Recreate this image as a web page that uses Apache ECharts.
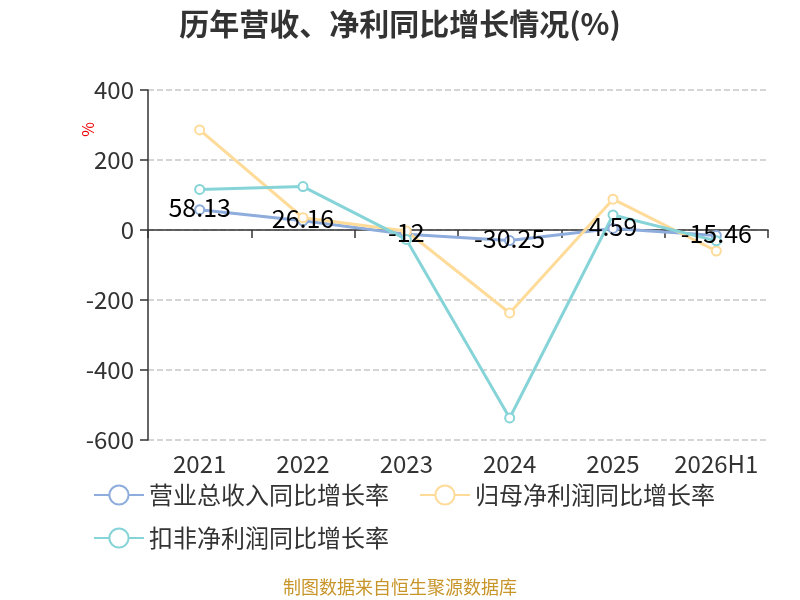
<!DOCTYPE html>
<html>
<head>
<meta charset="utf-8">
<script src="https://cdn.jsdelivr.net/npm/echarts@6/dist/echarts.min.js"></script>
<style>
  html, body { margin: 0; padding: 0; background: #fff; }
  #chart { width: 800px; height: 600px; }
</style>
</head>
<body>
<div id="chart"></div>
<script>
const categories = ['2021', '2022', '2023', '2024', '2025', '2026H1'];
const revenueGrowth = [58.13, 26.16, -12, -30.25, 4.59, -15.46];
const netProfitGrowth = [286, 35, -3, -237, 88, -60];
const deductedProfitGrowth = [116, 124, -27, -537, 43, -31];
const yTicks = { min: -600, max: 400, interval: 200 };

const font = '"Noto Sans CJK SC", "Noto Sans", sans-serif';
const chart = echarts.init(document.getElementById('chart'));

function line(name, data, color, withLabel) {
    return {
        name: name,
        type: 'line',
        data: data,
        symbol: 'emptyCircle',
        symbolSize: 9,
        lineStyle: { width: 3, color: color },
        itemStyle: { color: color },
        label: {
            show: withLabel,
            position: 'inside',
            offset: [0, -2],
            color: '#000',
            fontSize: 25,
            fontFamily: font
        }
    };
}

const legendBase = {
    itemWidth: 50,
    itemHeight: 24,
    itemGap: 30,
    textStyle: { fontSize: 24, color: '#333', fontFamily: font }
};

const option = {
    backgroundColor: '#fff',
    color: ['#8eacdc', '#ffdb9a', '#86d4d8'],
    title: {
        text: '历年营收、净利同比增长情况(%)',
        left: 'center',
        top: 4,
        textStyle: { fontSize: 30, fontWeight: 'bold', color: '#333', fontFamily: font }
    },
    legend: [
        Object.assign({}, legendBase, {
            left: 88, top: 478,
            data: ['营业总收入同比增长率', '归母净利润同比增长率']
        }),
        Object.assign({}, legendBase, {
            left: 88, top: 521,
            data: ['扣非净利润同比增长率']
        })
    ],
    grid: { left: 148, right: 32, top: 90, bottom: 160 },
    xAxis: {
        type: 'category',
        data: categories,
        axisLine: { lineStyle: { color: '#333', width: 1.5 } },
        axisTick: { show: true, length: 8, lineStyle: { color: '#333', width: 1.5 } },
        axisLabel: { fontSize: 24, color: '#333', fontFamily: font, interval: 0, margin: 12 }
    },
    yAxis: {
        type: 'value',
        min: yTicks.min,
        max: yTicks.max,
        interval: yTicks.interval,
        axisLine: { show: true, lineStyle: { color: '#333', width: 1.5 } },
        axisTick: { show: true, length: 8, lineStyle: { color: '#333', width: 1.5 } },
        axisLabel: { fontSize: 24, color: '#333', fontFamily: font, margin: 14 },
        splitLine: { lineStyle: { type: 'dashed', color: '#c8c8c8', width: 1.5 } }
    },
    graphic: [
        {
            type: 'text',
            left: 80,
            top: 122,
            rotation: Math.PI / 2,
            style: { text: '%', fill: '#e00', fontSize: 16, fontFamily: font }
        },
        {
            type: 'text',
            left: 'center',
            top: 578,
            style: { text: '制图数据来自恒生聚源数据库', fill: '#c8952a', fontSize: 18, fontFamily: font }
        }
    ],
    series: [
        line('营业总收入同比增长率', revenueGrowth, '#8eacdc', true),
        line('归母净利润同比增长率', netProfitGrowth, '#ffdb9a', false),
        line('扣非净利润同比增长率', deductedProfitGrowth, '#86d4d8', false)
    ]
};
chart.setOption(option);
</script>
</body>
</html>
